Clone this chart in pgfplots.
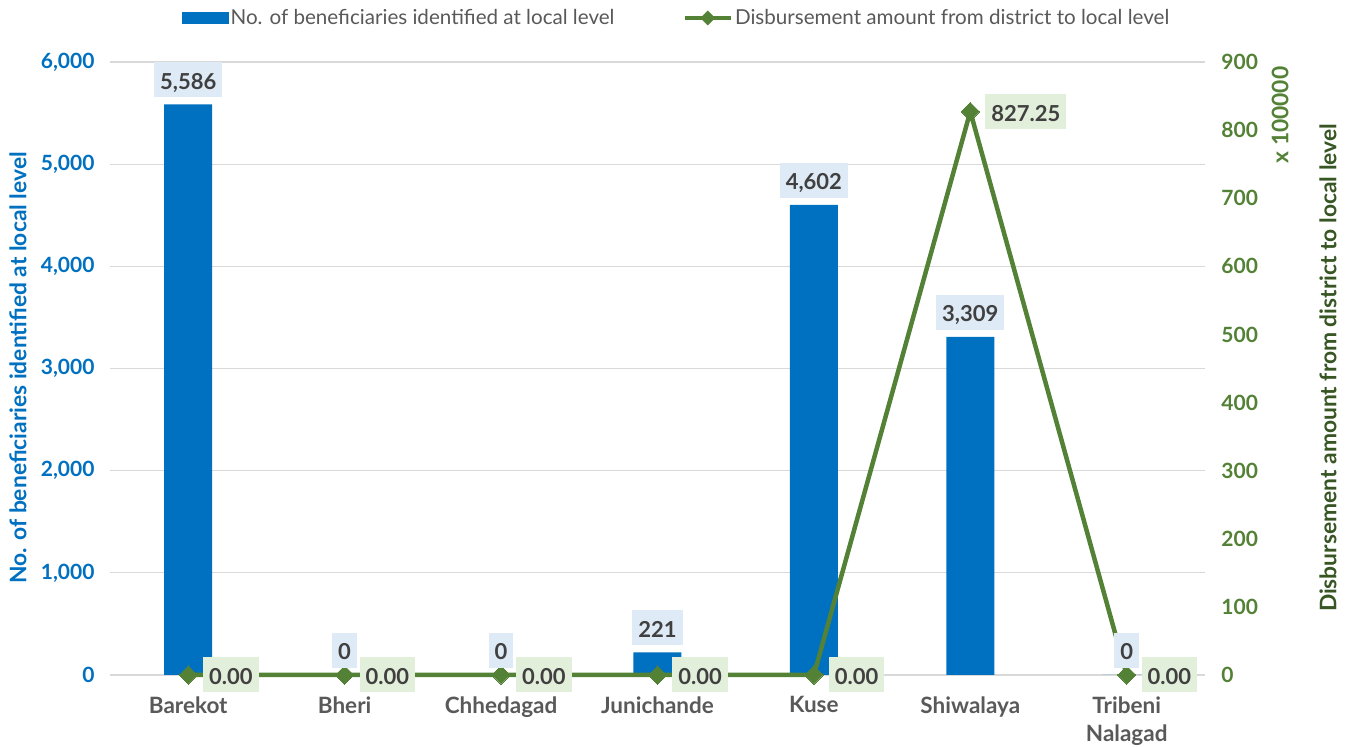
\documentclass[border=0pt]{standalone}
\usepackage{pgfplots}
\pgfplotsset{compat=1.18}
\usepackage{pgfplotstable}
\usepackage{fontspec}
\setmainfont{Lato}

\definecolor{barblue}{HTML}{0070C0}
\definecolor{linegreen}{HTML}{538135}
\definecolor{darkgreen}{HTML}{375623}
\definecolor{labgray}{HTML}{404040}
\definecolor{catgray}{HTML}{595959}
\definecolor{bluebg}{HTML}{DEEAF6}
\definecolor{greenbg}{HTML}{E2EFDA}
\definecolor{gridgray}{HTML}{D9D9D9}

% x: category index, ben: beneficiaries, disb: disbursement (x 100000)
\pgfplotstableread{
x ben disb
0 5586 0
1 0 0
2 0 0
3 221 0
4 4602 0
5 3309 827.25
6 0 0
}\datatable

\pgfplotsset{
  base/.style={
    scale only axis, width=1095pt, height=613pt,
    at={(0,0)}, anchor=south west,
    xmin=-0.5, xmax=6.5,
    major tick length=0pt,
    axis line style={draw=none},
    /pgf/number format/assume math mode=true,
  },
  linelegend/.style={legend image code/.code={
    \draw[linegreen, line width=4.5pt] (0pt,0pt) -- (46pt,0pt);
    \fill[linegreen, rotate around={45:(23pt,0pt)}] (18pt,-5pt) rectangle (28pt,5pt);}},
  barlegend/.style={legend image code/.code={\fill[barblue] (0pt,-6pt) rectangle (47pt,6pt);}},
}
\newcommand\tickfont{\fontsize{21}{23}\selectfont\bfseries}
\newcommand\datafont{\fontsize{22}{24}\selectfont\bfseries}
\newcommand\labfont{\fontsize{22.8}{25}\selectfont\bfseries}

\begin{document}
\begin{tikzpicture}
\useasboundingbox (-110pt,-72pt) rectangle (1243pt,675pt);
\begin{axis}[base, name=ax,
  ymin=0, ymax=6000, ytick distance=1000,
  ymajorgrids, grid style={gridgray, line width=1.2pt},
  xtick={0,...,6},
  xticklabels={Barekot,Bheri,Chhedagad,Junichande,Kuse,Shiwalaya,{Tribeni\\Nalagad}},
  xticklabel style={font=\fontsize{22.5}{28}\selectfont\bfseries, text=catgray,
    align=center, anchor=north, yshift=-18pt},
  yticklabel style={font=\tickfont, text=barblue, anchor=east, xshift=-12pt,
    /pgf/number format/1000 sep={,}},
  ybar, bar width=48pt,
  legend columns=2,
  legend style={draw=none, at={(0.5,1)}, anchor=center, xshift=19pt, yshift=44pt,
    font=\fontsize{20.6}{22}\selectfont, text=catgray,
    /tikz/every even column/.append style={column sep=66pt}},
]
\addplot[fill=barblue, draw=none, barlegend]
  table[x=x, y=ben] {\datatable};
\addlegendentry{No. of beneficiaries identified at local level}
\addlegendimage{linegreen, linelegend}
\addlegendentry{Disbursement amount from district to local level}
\end{axis}

\begin{axis}[base, name=ax2,
  ymin=0, ymax=900, ytick distance=100,
  axis y line*=right, axis x line=none,
  yticklabel style={font=\tickfont, text=linegreen, anchor=west, xshift=13pt},
  clip=false,
]
\addplot[linegreen, line width=4.5pt, mark=square*, mark size=6.5pt,
  mark options={rotate=45, line width=0pt},
  nodes near coords={\pgfmathprintnumber[fixed, fixed zerofill, precision=2]{\pgfplotspointmeta}},
  every node near coord/.append style={anchor=west, xshift=15pt, fill=greenbg,
    text=labgray, font=\datafont, inner xsep=6pt, inner ysep=8pt,
    text height=19pt, text depth=0pt,
    /pgf/number format/assume math mode=true}]
  table[x=x, y=disb] {\datatable};
\end{axis}

\begin{axis}[base, hide axis, ymin=0, ymax=6000, ybar, bar width=48pt, clip=false]
\addplot[draw=none, fill=none,
  nodes near coords,
  every node near coord/.append style={fill=bluebg, text=labgray, yshift=7pt,
    font=\datafont, inner xsep=6pt, inner ysep=8pt, text height=19pt, text depth=0pt,
    /pgf/number format/1000 sep={,}, /pgf/number format/assume math mode=true}]
  table[x=x, y=ben] {\datatable};
\end{axis}

% axis titles
\node[rotate=90, text=barblue, font=\labfont] at (-92pt,307pt)
  {No. of beneficiaries identified at local level};
\node[rotate=90, text=darkgreen, font=\labfont] at (1218pt,307pt)
  {Disbursement amount from district to local level};
\node[rotate=90, text=linegreen, font=\labfont] at (1170pt,560pt) {x 100000};
\end{tikzpicture}
\end{document}
